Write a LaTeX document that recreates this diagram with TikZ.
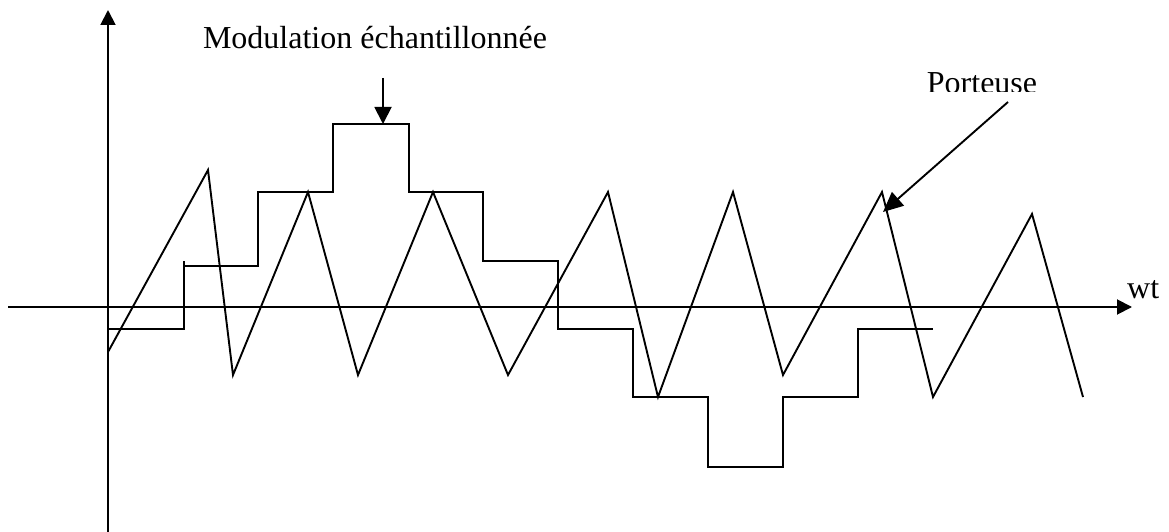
\documentclass[tikz,border=0pt]{standalone}
\usepackage{fontspec}
\setmainfont{Liberation Serif}
\usetikzlibrary{arrows.meta}
\tikzset{
  curve/.style={line width=1.9pt, line join=miter},
  axis/.style={line width=1.9pt, -{Triangle[length=15pt,width=15pt]}},
  pointer/.style={line width=1.9pt, -{Triangle[length=17pt,width=17pt]}},
  lbl/.style={inner sep=0pt, anchor=base, font=\fontsize{32}{38}\selectfont}
}
\begin{document}
\begin{tikzpicture}[x=1pt,y=-1pt]
\useasboundingbox (0,0) rectangle (1169,532);
% axes
\coordinate (ybot) at (108,532);
\coordinate (ytop) at (108,10);
\coordinate (xl) at (8,307);
\coordinate (xr) at (1132,307);
\draw[axis] (ybot) -- (ytop);
\draw[axis] (xl) -- (xr);
\node[lbl, anchor=base west] (wt) at (1127,298) {wt};
% carrier (triangle wave)
\draw[curve] (108,352) -- (208,170) -- (233,375) -- (308,192) -- (358,375)
  -- (433,192) -- (508,375) -- (608,192) -- (658,397) -- (733,192)
  -- (783,375) -- (882,192) -- (933,397) -- (1032,214) -- (1083,397);
% sampled modulation (staircase)
\draw[curve] (108,329) -- (184,329) -- (184,261);
\draw[curve] (184,266) -- (258,266) -- (258,192) -- (333,192) -- (333,124)
  -- (409,124) -- (409,192) -- (483,192) -- (483,261) -- (558,261)
  -- (558,329) -- (633,329) -- (633,397) -- (708,397) -- (708,467)
  -- (783,467) -- (783,397) -- (858,397) -- (858,329) -- (933,329);
% labels
\node[lbl] (mod) at (375,49) {Modulation échantillonnée};
\begin{scope}
\clip (900,60) rectangle (1060,92);
\node[lbl] (port) at (982,94) {Porteuse};
\end{scope}
\coordinate (modS) at (383,78);
\coordinate (modT) at (383,124);
\draw[pointer] (modS) -- (modT);
\coordinate (portS) at (1008,102);
\coordinate (portT) at (883,212);
\draw[line width=1.9pt, -{Triangle[length=20pt,width=18pt]}] (portS) -- (portT);
\end{tikzpicture}
\end{document}
